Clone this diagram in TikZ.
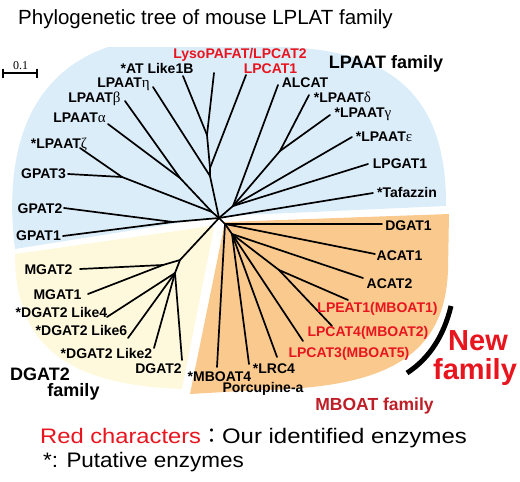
\documentclass[tikz,border=0pt]{standalone}
\usepackage{graphicx}
\usepackage{fontspec}
\setmainfont{Liberation Sans}
\newfontfamily\grkfont{Liberation Serif}
\newfontfamily\cjkfont{Noto Sans CJK JP}
\newcommand\grkl[1]{{\grkfont\mdseries\fontsize{15}{15}\selectfont #1}}
\definecolor{bluebg}{RGB}{220,237,250}
\definecolor{orangebg}{RGB}{249,201,142}
\definecolor{yellowbg}{RGB}{254,249,221}
\definecolor{labred}{RGB}{232,20,30}
\definecolor{darkred}{RGB}{190,30,40}
\begin{document}
\begin{tikzpicture}[x=1pt,y=-1pt,
  br/.style={line width=1.7pt, line cap=round, line join=round},
  lab/.style={font=\bfseries\fontsize{14}{14}\selectfont, inner sep=0pt, anchor=base},
  redlab/.style={lab, text=labred},
  famlab/.style={font=\bfseries\fontsize{18}{18}\selectfont, inner sep=0pt, anchor=base}]
\useasboundingbox (0,0) rectangle (520,482);
% background regions
\fill[bluebg] (446,206) -- (222,216) -- (15,249) .. controls (5,170) and (18,78) .. (108,47)
  -- (265,47) .. controls (385,45) and (447,90) .. (446,206) -- cycle;
\fill[orangebg] (449,214) -- (225,222) -- (190,394) -- (260,390)
  .. controls (380,388) and (445,360) .. (448,270) -- cycle;
\fill[yellowbg] (211,226) -- (15,254) .. controls (15,340) and (60,385) .. (182,389) -- (214,228) -- cycle;

% title
\node[font=\fontsize{20.5}{20.5}\selectfont, inner sep=0pt, anchor=base west] (title) at (18,24) {Phylogenetic tree of mouse LPLAT family};

% scale bar
\coordinate (sb1) at (3,73);
\coordinate (sb2) at (37,73);
\draw[line width=1.4pt] (sb1) -- (sb2);
\draw[line width=1.4pt] ([yshift=4.5pt]sb1) -- ([yshift=-4.5pt]sb1);
\draw[line width=1.4pt] ([yshift=4.5pt]sb2) -- ([yshift=-4.5pt]sb2);
\node[font=\grkfont\fontsize{12}{12}\selectfont, inner sep=0pt, anchor=base] (sbl) at (20.5,69) {0.1};

% tree coordinates
\coordinate (R) at (219,218);
\coordinate (P2) at (207,135);
\coordinate (P1b) at (210,168);
\coordinate (P1) at (210,176);
\coordinate (Q1) at (180,178);
\coordinate (Z) at (122,177);
\coordinate (Q2) at (212,212);
\coordinate (G) at (173,222);
\coordinate (D) at (280,151);
\coordinate (S) at (233,206);
\coordinate (M0) at (225,224);
\coordinate (M1) at (232,234);
\coordinate (L) at (279,270);
\coordinate (Y1) at (180,260);
\coordinate (Ym) at (163,265);
\coordinate (Y2) at (175,273);
% tips
\coordinate (t-lyso) at (214,73);
\coordinate (t-like1b) at (183,76);
\coordinate (t-lpcat1) at (246,75);
\coordinate (t-eta) at (153,87);
\coordinate (t-beta) at (125,101);
\coordinate (t-alpha) at (108,124);
\coordinate (t-zeta) at (80,148);
\coordinate (t-gpat3) at (68,174);
\coordinate (t-gpat2) at (64,208);
\coordinate (t-gpat1) at (63,236);
\coordinate (t-alcat) at (278,85);
\coordinate (t-delta) at (309,95);
\coordinate (t-gamma) at (330,115);
\coordinate (t-eps) at (352,137);
\coordinate (t-lpgat1) at (368,164);
\coordinate (t-taf) at (373,193);
\coordinate (t-dgat1) at (382,224);
\coordinate (t-acat1) at (375,254);
\coordinate (t-acat2) at (363,278);
\coordinate (t-lpeat1) at (348,300);
\coordinate (t-lpcat4) at (332,326);
\coordinate (t-lpcat3) at (303,341);
\coordinate (t-lrc4) at (277,357);
\coordinate (t-porc) at (249,364);
\coordinate (t-mboat4) at (217,367);
\coordinate (t-dgat2) at (182,360);
\coordinate (t-like2) at (154,348);
\coordinate (t-like6) at (128,338);
\coordinate (t-like4) at (107,317);
\coordinate (t-mgat1) at (88,294);
\coordinate (t-mgat2) at (80,269);

% branches
\draw[br] (t-lyso) -- (P2) -- (P1b) -- (P1) -- (R);
\draw[br] (t-like1b) -- (P2);
\draw[br] (t-lpcat1) -- (P1b);
\draw[br] (t-eta) -- (P1);
\draw[br] (t-beta) -- (Q1) -- (Q2) -- (R);
\draw[br] (t-alpha) -- (Q1);
\draw[br] (t-zeta) -- (Z) -- (Q2);
\draw[br] (t-gpat3) -- (Z);
\draw[br] (t-gpat2) -- (G) -- (R);
\draw[br] (t-gpat1) -- (G);
\draw[br] (t-delta) -- (D) -- (S) -- (R);
\draw[br] (t-gamma) -- (D);
\draw[br] (t-alcat) -- (S);
\draw[br] (t-eps) -- (S);
\draw[br] (t-lpgat1) -- (S);
\draw[br] (t-taf) -- (R);
\draw[br] (R) -- (M0) -- (M1);
\draw[br] (t-dgat1) -- (M0);
\draw[br] (t-acat1) -- (M0);
\draw[br] (t-mboat4) -- (M0);
\draw[br] (t-acat2) -- (M1);
\draw[br] (M1) -- (L);
\draw[br] (t-lpeat1) -- (L);
\draw[br] (t-lpcat4) -- (L);
\draw[br] (t-lpcat3) -- (M1);
\draw[br] (t-lrc4) -- (M1);
\draw[br] (t-porc) -- (M1);
\draw[br] (R) -- (Y1) -- (Y2);
\draw[br] (t-mgat2) -- (Ym) -- (Y1);
\draw[br] (t-mgat1) -- (Ym);
\draw[br] (t-like4) -- (Y2);
\draw[br] (t-like6) -- (Y2);
\draw[br] (t-like2) -- (Y2);
\draw[br] (t-dgat2) -- (Y2);

% leaf labels
\node[redlab] (l-lyso) at (240,58) {LysoPAFAT/LPCAT2};
\node[redlab] (l-lpcat1) at (270.5,73) {LPCAT1};
\node[lab] (l-like1b) at (157,73) {*AT Like1B};
\node[lab] (l-eta) at (123.5,87) {LPAAT\grkl{η}};
\node[lab] (l-beta) at (94.5,102) {LPAAT\grkl{β}};
\node[lab] (l-alpha) at (79.5,122) {LPAAT\grkl{α}};
\node[lab] (l-zeta) at (59,148) {*LPAAT\grkl{ζ}};
\node[lab] (l-gpat3) at (43.5,178) {GPAT3};
\node[lab] (l-gpat2) at (40,213) {GPAT2};
\node[lab] (l-gpat1) at (38.5,240) {GPAT1};
\node[lab] (l-alcat) at (305,87) {ALCAT};
\node[lab] (l-delta) at (342.5,102) {*LPAAT\grkl{δ}};
\node[lab] (l-gamma) at (363,117) {*LPAAT\grkl{γ}};
\node[lab] (l-eps) at (384,141) {*LPAAT\grkl{ε}};
\node[lab] (l-lpgat1) at (400,168) {LPGAT1};
\node[lab] (l-taf) at (407,197) {*Tafazzin};
\node[lab] (l-dgat1) at (408.5,230) {DGAT1};
\node[lab] (l-acat1) at (399.5,260) {ACAT1};
\node[lab] (l-acat2) at (389.5,288) {ACAT2};
\node[redlab] (l-lpeat1) at (377.5,312) {LPEAT1(MBOAT1)};
\node[redlab] (l-lpcat4) at (368,336) {LPCAT4(MBOAT2)};
\node[redlab] (l-lpcat3) at (349,357) {LPCAT3(MBOAT5)};
\node[lab] (l-lrc4) at (274,373) {*LRC4};
\node[lab] (l-porc) at (263,392) {Porcupine-a};
\node[lab] (l-mboat4) at (219.5,381) {*MBOAT4};
\node[lab] (l-dgat2) at (158.5,373) {DGAT2};
\node[lab] (l-like2) at (106.5,358) {*DGAT2 Like2};
\node[lab] (l-like6) at (81.5,335) {*DGAT2 Like6};
\node[lab] (l-like4) at (61.5,317) {*DGAT2 Like4};
\node[lab] (l-mgat1) at (57.5,299) {MGAT1};
\node[lab] (l-mgat2) at (48.5,274) {MGAT2};

% family labels
\node[famlab] (f-lpaat) at (386,68) {LPAAT family};
\node[famlab] (f-dgat2a) at (40,380) {DGAT2};
\node[famlab] (f-dgat2b) at (73.5,396) {family};
\node[famlab, font=\bfseries\fontsize{17.5}{17.5}\selectfont, text=darkred] (f-mboat) at (374.5,410) {MBOAT family};
\node[famlab, font=\bfseries\fontsize{29}{29}\selectfont, text=labred] (f-new1) at (478,350) {New};
\node[famlab, font=\bfseries\fontsize{29}{29}\selectfont, text=labred] (f-new2) at (475,379) {family};
\coordinate (arcA) at (451,306);
\coordinate (arcB) at (407,373);
\draw[line width=5pt] (arcA) .. controls (444,335) and (430,358) .. (arcB);

% legend
\node[font=\fontsize{21}{21}\selectfont, inner sep=0pt, anchor=base west] (leg1) at (40,443)
  {\scalebox{1.13}[1]{\textcolor{labred}{Red characters}}{\cjkfont ：}\scalebox{1.14}[1]{Our identified enzymes}};
\node[font=\fontsize{21}{21}\selectfont, inner sep=0pt, anchor=base west] (leg2) at (43,467)
  {\scalebox{1.07}[1]{*: Putative enzymes}};
\end{tikzpicture}
\end{document}
